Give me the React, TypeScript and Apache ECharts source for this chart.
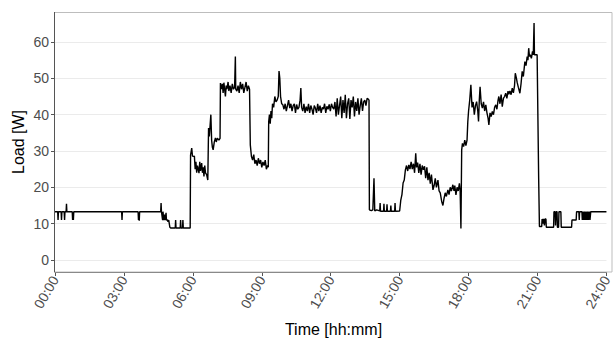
import React, { useEffect, useRef } from "react";
import * as echarts from "echarts";

// Time in minutes after midnight, load in W
const nightProfile: [number, number][] = [
  [0, 13.3], [7, 13.3], [8, 11], [9, 13.3], [16, 13.3], [17, 11], [18, 13.3], [24, 13.3], [25, 11], [26, 13.3],
  [29, 13.3], [30, 15.5], [31, 13.3], [45, 13.3], [46, 11], [47, 12], [48, 11], [49, 13.3], [174, 13.3], [175, 11],
  [176, 13.3], [217, 13.3], [218, 11], [219, 12], [220, 10.8], [221, 13.3], [276, 13.3], [277, 15.7], [278, 13.3],
  [281, 11], [282, 13.3], [284, 11], [286, 12.5], [288, 11], [290, 13], [291, 11], [294, 11], [295, 10.5], [297, 11],
  [300, 9], [302, 8.8], [314, 8.8], [315, 11], [316, 8.8], [327, 8.8], [328, 11], [329, 8.8], [333, 8.8], [334, 11],
  [335, 8.8], [353, 8.8],
];

const morningProfile: [number, number][] = [
  [354, 28.9], [357, 30.8], [359, 28.6], [362, 28.5], [364, 28.6], [366, 25], [368, 27], [370, 24], [372, 26], [374, 25],
  [376, 23.9], [378, 27], [380, 24.5], [383, 26.7], [385, 24], [387, 25.5], [389, 23], [391, 26], [393, 24], [396, 23.5],
  [399, 22], [401, 36.3], [403, 34], [405, 37], [407, 40], [409, 33], [411, 31], [413, 30.3], [416, 32.5], [419, 33.6],
  [421, 32.5], [424, 33.5], [428, 33], [431, 33.5], [432, 48.7], [435, 47], [437, 48.5], [439, 46], [441, 48.8], [443, 47],
  [445, 45], [447, 48], [449, 47], [452, 49], [454, 46.5], [457, 48], [460, 46], [463, 48.5], [466, 47], [469, 47.5],
  [471, 56], [472, 47], [475, 46.5], [478, 48], [481, 46], [484, 49], [487, 47], [490, 48.5], [493, 46], [496, 47.5],
  [499, 49], [502, 46.5], [505, 48], [508, 47], [510, 31.7], [513, 28.5], [516, 27.5], [519, 29], [522, 26.5], [525, 27.5],
  [528, 26], [531, 28], [534, 26.5], [537, 27.5], [540, 25.5], [543, 27], [546, 26], [549, 27.5], [552, 25], [555, 26],
  [557, 25.5], [558, 38], [560, 40], [562, 37.5], [564, 41], [566, 39], [568, 43], [571, 42], [574, 45], [577, 43.5],
  [580, 44], [583, 45], [585, 52], [587, 50], [589, 45], [592, 43], [595, 42.7],
];

const middayProfile: [number, number][] = [
  [598, 41.5], [601, 43], [604, 41], [607, 42.5], [610, 44], [613, 41.8], [616, 43], [619, 41], [622, 42.5], [625, 43],
  [628, 40.5], [631, 42.8], [634, 41.5], [637, 42], [640, 44], [642, 47.3], [644, 42], [647, 41], [650, 43], [653, 40.5],
  [656, 42.2], [659, 41], [662, 43], [665, 40.5], [668, 42.5], [671, 41.5], [674, 40], [677, 42.5], [680, 41.8], [683, 40.5],
  [686, 43], [689, 41], [692, 42.5], [695, 40.5], [698, 42], [701, 41.5], [704, 43], [707, 40.5], [710, 42.3], [713, 41.5],
  [716, 42.8], [719, 41], [722, 43], [725, 42], [728, 41.5], [731, 43.5], [734, 39.5], [737, 44.5], [740, 40], [743, 42.5],
  [746, 45], [749, 39], [752, 44], [755, 40.5], [758, 45.5], [761, 39], [764, 43], [767, 44.5], [770, 38.8], [773, 44],
  [776, 42], [779, 45], [782, 39.5], [785, 43.5], [788, 41], [791, 44.5], [794, 40], [797, 42.5], [800, 44.5], [803, 41],
  [806, 43.5], [809, 44], [812, 42.5], [815, 44.5], [818, 44.3], [820, 44],
];

const afternoonProfile: [number, number][] = [
  [821, 13.8], [826, 13.6], [830, 13.8], [833, 22.5], [835, 13.5], [840, 13.8], [848, 13.5], [849, 15.7], [850, 13.4],
  [858, 13.4], [859, 15.5], [860, 13.4], [866, 13.4], [867, 15.3], [868, 13.4], [876, 13.4], [877, 15], [878, 13.4],
  [887, 13.4], [888, 15.7], [889, 13.4], [900, 13.5], [903, 16.5], [906, 18], [909, 21.2], [912, 22], [915, 24.8],
  [918, 26], [921, 24.5], [924, 26.2], [927, 25], [930, 27], [933, 25], [936, 26.5], [939, 24], [942, 29.4], [944, 25.5],
  [947, 26.8], [950, 24], [953, 26.5], [956, 23.5], [959, 26], [962, 24.8], [965, 25.8], [968, 22.5], [971, 25.5],
  [974, 22], [977, 24], [980, 21], [983, 23.5], [987, 19.3], [990, 20.5], [993, 22.5], [996, 20], [1000, 22], [1003, 19],
  [1006, 18.5], [1010, 16], [1013, 15], [1016, 17], [1019, 18.5], [1022, 17.5], [1026, 19.3], [1029, 18], [1032, 20],
  [1035, 19], [1039, 20.7], [1042, 19], [1044, 20.5], [1047, 17.9], [1050, 20], [1053, 19], [1056, 21.1], [1058, 19],
  [1060, 8.7],
];

const eveningProfile: [number, number][] = [
  [1062, 30.3], [1064, 32.1], [1067, 31.2], [1070, 33], [1073, 31.5], [1076, 33], [1078, 38.1], [1080, 41], [1083, 44],
  [1086, 48.2], [1089, 42], [1092, 43.5], [1095, 40], [1098, 42.5], [1101, 43.6], [1104, 41], [1106, 38.1], [1108, 44],
  [1110, 47.7], [1113, 43], [1116, 41.8], [1119, 43.5], [1122, 41], [1125, 42.7], [1128, 40.5], [1131, 39], [1133, 37.2],
  [1136, 40.5], [1139, 39.5], [1142, 40.9], [1145, 40], [1148, 42], [1151, 42.7], [1154, 41.5], [1157, 44], [1159, 45],
  [1162, 43], [1165, 45.5], [1168, 42.2], [1171, 44.5], [1174, 45], [1177, 45.9], [1180, 44.5], [1183, 46.5], [1185, 45.6],
  [1188, 46.5], [1191, 45.5], [1194, 47.3], [1197, 46], [1200, 48], [1202, 51.4], [1205, 50], [1207, 48.8], [1210, 47.5],
  [1214, 45.9], [1217, 48.5], [1220, 51.9], [1223, 50.5], [1227, 54.6], [1230, 53.5], [1233, 56], [1235, 55], [1237, 58.3],
  [1239, 56], [1241, 56.5], [1244, 55.5], [1247, 57.4], [1249, 56.5], [1251, 65.2], [1252, 56.5], [1256, 56.5], [1259, 56.5],
  [1263, 22.6], [1265, 9.2], [1271, 9.2], [1272, 11.3], [1274, 10], [1276, 11.3], [1278, 9.5], [1280, 11.3], [1282, 11.3],
  [1283, 9], [1302, 9], [1303, 13.3], [1306, 13.3], [1307, 9.5], [1309, 13.3], [1311, 13.3], [1312, 9], [1315, 9],
  [1316, 13.3], [1321, 13.3], [1322, 9], [1349, 9], [1350, 11], [1361, 11], [1362, 13.3], [1368, 13.3], [1369, 11],
  [1370, 13.3], [1376, 13.3], [1377, 11], [1379, 13.3], [1381, 11], [1383, 13.3], [1385, 11], [1387, 13.3], [1389, 11],
  [1391, 13.3], [1393, 11], [1395, 13.3], [1397, 11], [1399, 13.3], [1401, 13.3], [1440, 13.3],
];

const xTickStep = 180; // minutes
const yTicks = { min: 0, max: 60, step: 10 };
const xTitle = "Time [hh:mm]";
const yTitle = "Load [W]";

const fontFamily = "'Liberation Sans', Arial, Helvetica, sans-serif";

function fmtTime(v: number): string {
  const h = Math.round(v / 60);
  return (h < 10 ? "0" : "") + h + ":00";
}

export default function App() {
  const ref = useRef<HTMLDivElement>(null);

  useEffect(() => {
    if (!ref.current) return;
    const chart = echarts.init(ref.current, undefined, { renderer: "svg" });
    const data = [
      ...nightProfile,
      ...morningProfile,
      ...middayProfile,
      ...afternoonProfile,
      ...eveningProfile,
    ];
    const left = 55;
    const right = 612;
    const top = 12;
    const bottom = 272;
    chart.setOption({
      animation: false,
      backgroundColor: "#ffffff",
      grid: { left: left, right: 614 - right, top: 42, bottom: 340 - 260 },
      xAxis: {
        type: "value",
        min: 0,
        max: 1440,
        interval: xTickStep,
        offset: 12,
        axisLine: { show: true, onZero: false, lineStyle: { color: "#555555", width: 1 } },
        axisTick: { show: true, length: 4, lineStyle: { color: "#555555" } },
        splitLine: { show: false },
        axisLabel: {
          rotate: 60,
          margin: 5,
          color: "#4d4d4d",
          fontSize: 14,
          fontFamily,
          formatter: (v: number) => fmtTime(v),
        },
      },
      yAxis: {
        type: "value",
        min: yTicks.min,
        max: yTicks.max,
        interval: yTicks.step,
        axisLine: { show: false },
        axisTick: { show: true, length: 4, lineStyle: { color: "#555555" } },
        splitLine: { show: true, lineStyle: { color: "#ebebeb", width: 1 } },
        axisLabel: { margin: 6, color: "#4d4d4d", fontSize: 14, fontFamily },
      },
      series: [
        {
          type: "line",
          data,
          showSymbol: false,
          symbol: "none",
          clip: false,
          z: 5,
          lineStyle: { color: "#000000", width: 1.4 },
        },
      ],
      graphic: [
        {
          type: "rect",
          z: 1,
          shape: { x: left - 0.5, y: top + 0.5, width: right - left + 0.5, height: bottom - top - 0.5 },
          style: { fill: "none", stroke: "#bdbdbd", lineWidth: 1 },
          silent: true,
        },
        {
          type: "line",
          z: 2,
          shape: { x1: left - 0.5, y1: top, x2: left - 0.5, y2: bottom },
          style: { stroke: "#555555", lineWidth: 1 },
          silent: true,
        },
        {
          type: "text",
          x: (left + right) / 2,
          y: 329,
          style: {
            text: xTitle,
            fill: "#000000",
            fontSize: 16,
            fontFamily,
            align: "center",
            verticalAlign: "middle",
          },
        },
        {
          type: "text",
          x: 18,
          y: (top + bottom) / 2,
          rotation: Math.PI / 2,
          style: {
            text: yTitle,
            fill: "#000000",
            fontSize: 16,
            fontFamily,
            align: "center",
            verticalAlign: "middle",
          },
        },
      ],
    });
    return () => chart.dispose();
  }, []);

  return (
    <div
      ref={ref}
      style={{ position: "fixed", left: 0, top: 0, width: 614, height: 340 }}
    />
  );
}
